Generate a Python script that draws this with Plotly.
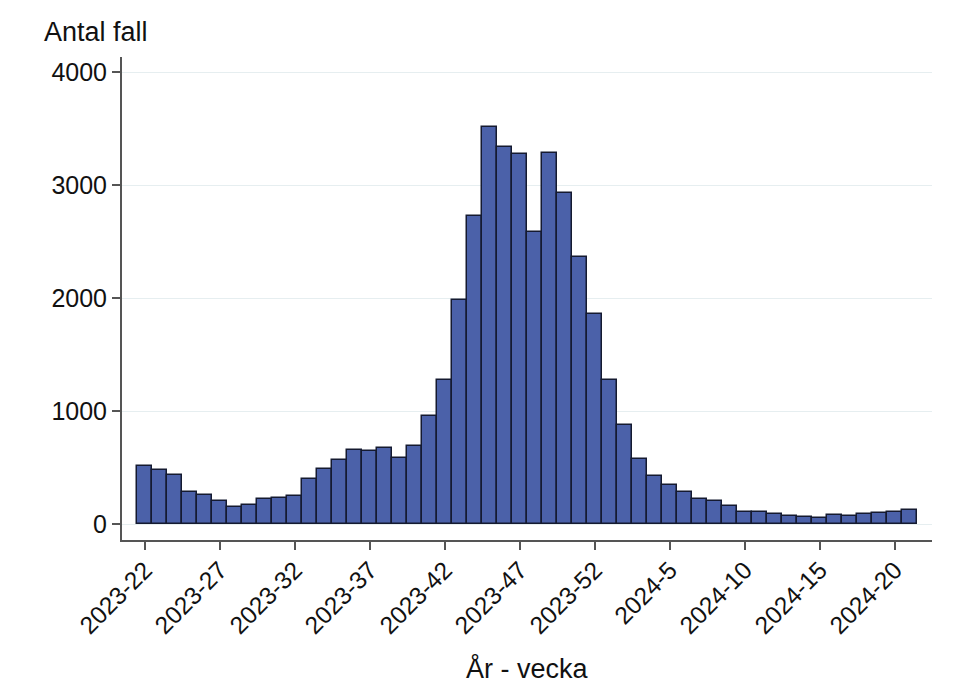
import plotly.graph_objects as go

weeks_2023 = list(range(22, 53))
weeks_2024 = list(range(1, 22))
week_labels = [f"2023-{w}" for w in weeks_2023] + [f"2024-{w}" for w in weeks_2024]

cases = [
    513, 475, 434, 283, 260, 204, 150, 168, 221, 227,
    251, 401, 490, 563, 658, 649, 670, 587, 690, 959,
    1277, 1985, 2723, 3516, 3336, 3277, 2584, 3286, 2929, 2366,
    1855,
    1277, 876, 575, 422, 342, 280, 221, 200, 159, 103,
    109, 86, 71, 65, 50, 77, 71, 91, 97, 103,
    121,
]

tick_labels = week_labels[::5]
y_ticks = [0, 1000, 2000, 3000, 4000]

fig = go.Figure()
fig.add_trace(go.Bar(
    x=week_labels,
    y=cases,
    marker=dict(color="#4b61a9", line=dict(color="#151a30", width=1.5)),
    width=1.0,
))

font_family = "Liberation Sans, Arial, sans-serif"

fig.update_layout(
    width=971, height=690,
    margin=dict(l=114, r=47, t=49, b=158),
    paper_bgcolor="white", plot_bgcolor="white",
    showlegend=False,
    bargap=0,
    font=dict(family=font_family, size=25, color="#111111"),
    xaxis=dict(
        type="category",
        range=[-1.53, 52.47],
        tickmode="array",
        tickvals=tick_labels,
        ticktext=tick_labels,
        tickangle=-45,
        ticks="outside", ticklen=8, tickwidth=1.5, tickcolor="#555555",
        showline=True, linecolor="#555555", linewidth=2,
        showgrid=False,
        tickfont=dict(size=24.5),
        ticklabelstandoff=-4,
    ),
    yaxis=dict(
        range=[-141, 4133],
        tickmode="array",
        tickvals=y_ticks,
        ticks="outside", ticklen=8, tickwidth=1.5, tickcolor="#555555",
        showline=True, linecolor="#555555", linewidth=2,
        showgrid=True, gridcolor="#e6eef0", gridwidth=1,
        zeroline=False,
        tickfont=dict(size=25),
    ),
    annotations=[
        dict(text="Antal fall", xref="paper", yref="paper",
             x=(42 - 122) / 810, y=(540 - 32) / 483, xanchor="left", yanchor="middle",
             showarrow=False, font=dict(size=27)),
        dict(text="År - vecka", xref="paper", yref="paper",
             x=(527 - 122) / 810, y=(540 - 668) / 483, xanchor="center", yanchor="middle",
             showarrow=False, font=dict(size=27)),
    ],
)

fig.write_html("out.html")
